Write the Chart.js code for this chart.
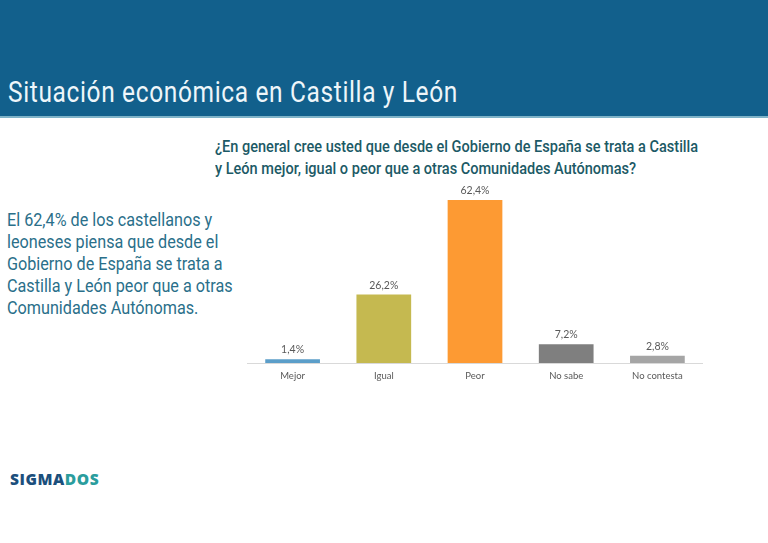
<!DOCTYPE html>
<html lang="es">
<head>
<meta charset="utf-8">
<title>Situación económica en Castilla y León</title>
<script src="https://cdn.jsdelivr.net/npm/chart.js@4"></script>
<style>
html,body{margin:0;padding:0;background:#fff;width:768px;height:543px;overflow:hidden;font-family:Roboto,sans-serif}
#band{position:absolute;left:0;top:0;width:768px;height:116px;background:#12608c;border-bottom:2px solid #7fb3c8}
#head{position:absolute;left:8px;top:74px;font-size:29px;line-height:36px;color:#eef6fa;letter-spacing:.75px;white-space:nowrap;transform:scaleX(.845);transform-origin:0 0}
#q{position:absolute;left:215px;top:136px;font-size:16.5px;line-height:22px;font-weight:500;color:#1c5a66;white-space:nowrap;transform:scaleX(.881);transform-origin:0 0}
#side{position:absolute;left:7px;top:209px;font-size:18.5px;line-height:22px;color:#2a6f8a;white-space:nowrap;transform:scaleX(.875);transform-origin:0 0}
#logo{position:absolute;left:10px;top:469px;font-family:"Open Sans",sans-serif;font-weight:800;font-size:15.5px;line-height:20px;letter-spacing:.55px;color:#1b4f7c}
#logo span{color:#2a9d9d}
#wrap{position:absolute;left:247px;top:175px;width:456px;height:215px}
</style>
</head>
<body>
<div id="band"></div>
<div id="head">Situación económica en Castilla y León</div>
<div id="q">¿En general cree usted que desde el Gobierno de España se trata a Castilla<br>y León mejor, igual o peor que a otras Comunidades Autónomas?</div>
<div id="side">El 62,4% de los castellanos y<br>leoneses piensa que desde el<br>Gobierno de España se trata a<br>Castilla y León peor que a otras<br>Comunidades Autónomas.</div>
<div id="logo">SIGMA<span>DOS</span></div>
<div id="wrap"><canvas id="c"></canvas></div>
<script>
const categories = ["Mejor", "Igual", "Peor", "No sabe", "No contesta"];
const values = [1.4, 26.2, 62.4, 7.2, 2.8];
const barColors = ["#5b9ec9", "#c5b950", "#fd9a33", "#7f7f7f", "#a5a5a5"];

const valueLabels = {
  id: "valueLabels",
  afterDatasetsDraw(chart) {
    const ctx = chart.ctx;
    const meta = chart.getDatasetMeta(0);
    ctx.save();
    ctx.font = '10.5px Lato, sans-serif';
    ctx.fillStyle = "#595959";
    ctx.textAlign = "center";
    ctx.textBaseline = "bottom";
    meta.data.forEach((bar, i) => {
      ctx.fillText(values[i].toFixed(1).replace(".", ",") + "%", bar.x, bar.y - 4);
    });
    ctx.restore();
  }
};

new Chart(document.getElementById("c"), {
  type: "bar",
  data: {
    labels: categories,
    datasets: [{
      data: values,
      backgroundColor: barColors,
      categoryPercentage: 1,
      barPercentage: 0.6
    }]
  },
  options: {
    responsive: true,
    maintainAspectRatio: false,
    animation: false,
    layout: { padding: 0 },
    plugins: { legend: { display: false }, tooltip: { enabled: false } },
    scales: {
      y: { display: false, min: 0, max: 72 },
      x: {
        afterFit(scale) { scale.height = 27; },
        grid: { display: false, drawTicks: false },
        border: { color: "#d9d9d9", width: 1 },
        ticks: { color: "#595959", font: { family: "Lato, sans-serif", size: 9.5 }, padding: 7, maxRotation: 0 }
      }
    }
  },
  plugins: [valueLabels]
});
</script>
</body>
</html>
